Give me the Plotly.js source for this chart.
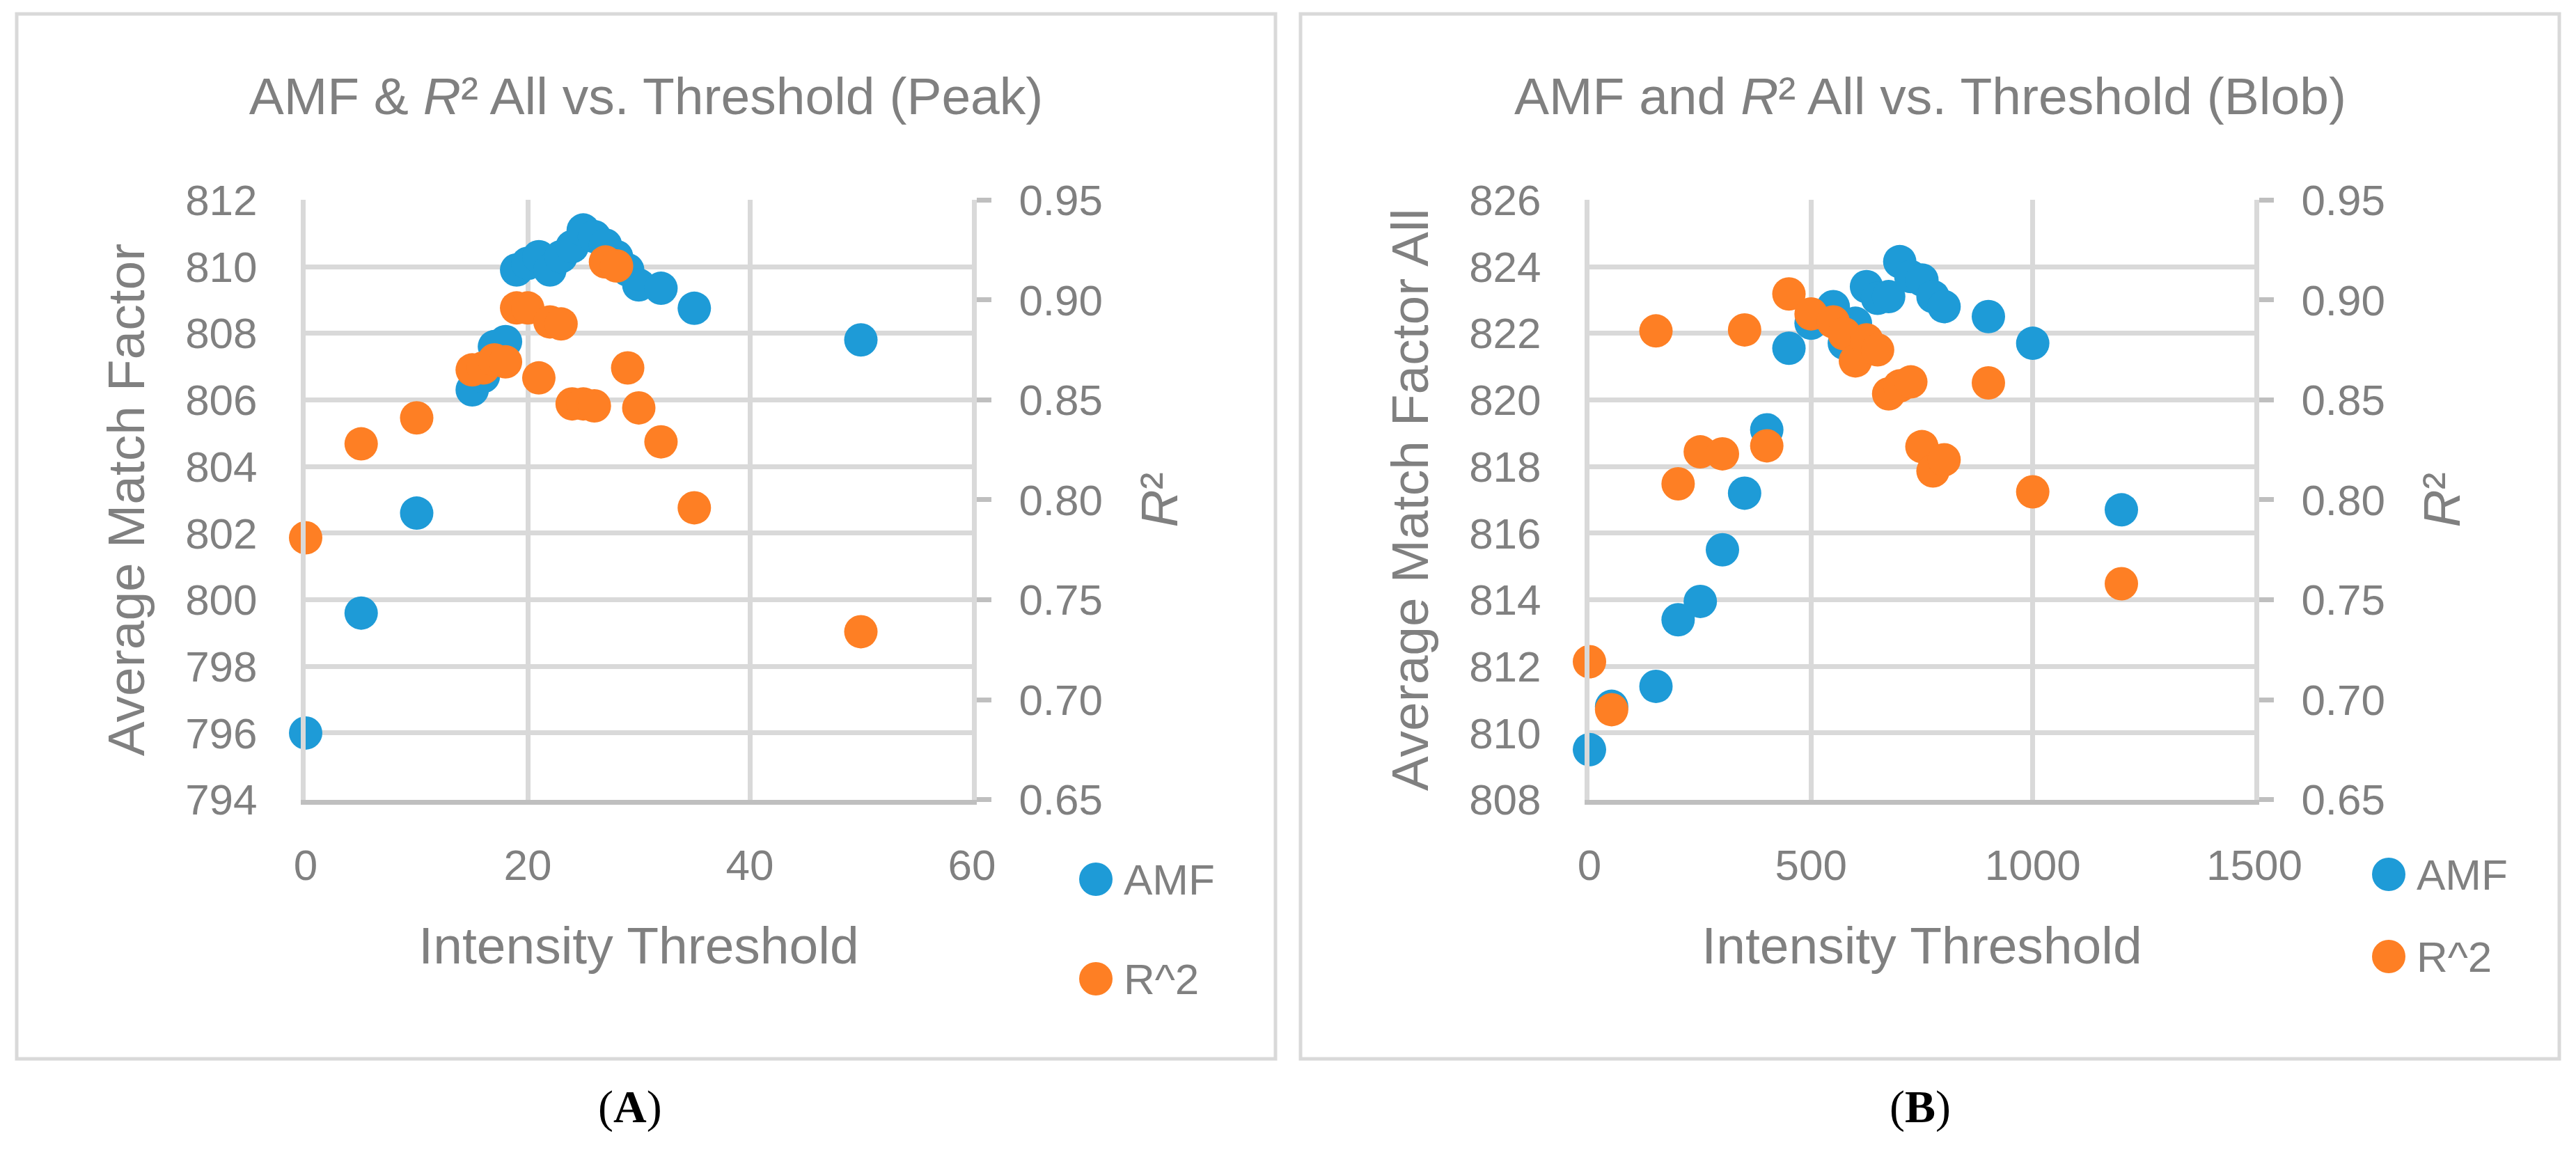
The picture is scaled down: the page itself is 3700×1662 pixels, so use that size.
<!DOCTYPE html>
<html>
<head>
<meta charset="utf-8">
<script src="https://cdn.plot.ly/plotly-3.0.1.min.js"></script>
<style>html,body{margin:0;padding:0;background:#fff;}#chart{width:3700px;height:1662px;}</style>
</head>
<body>
<div id="chart"></div>
<script>
// ---- Data ----
var thresholdPeak = [0, 5, 10, 15, 16, 17, 18, 19, 20, 21, 22, 23, 24, 25, 26, 27, 28, 29, 30, 32, 35, 50];
var amfPeak = [796.0, 799.6, 802.6, 806.3, 806.7, 807.6, 807.75, 809.9, 810.1, 810.3, 809.9, 810.3, 810.6, 811.1, 810.9, 810.65, 810.3, 809.9, 809.45, 809.35, 808.75, 807.8];
var r2Peak = [0.781, 0.828, 0.841, 0.865, 0.866, 0.870, 0.869, 0.896, 0.896, 0.861, 0.889, 0.888, 0.848, 0.848, 0.847, 0.919, 0.917, 0.866, 0.846, 0.829, 0.796, 0.734];

var thresholdBlob = [0, 50, 150, 200, 250, 300, 350, 400, 450, 500, 550, 575, 600, 625, 650, 675, 700, 725, 750, 775, 800, 900, 1000, 1200];
var amfBlob = [809.5, 810.8, 811.4, 813.4, 813.95, 815.5, 817.2, 819.1, 821.55, 822.3, 822.8, 821.7, 822.3, 823.4, 823.05, 823.1, 824.15, 823.7, 823.6, 823.1, 822.8, 822.5, 821.7, 816.7];
var r2Blob = [0.719, 0.695, 0.8845, 0.808, 0.824, 0.823, 0.885, 0.827, 0.903, 0.893, 0.889, 0.883, 0.8695, 0.880, 0.875, 0.853, 0.857, 0.859, 0.8266, 0.8144, 0.820, 0.8585, 0.804, 0.758];

var seriesNames = ["AMF", "R^2"];
var panelTitles = ["AMF &amp; <i>R</i>\u00b2 All vs. Threshold (Peak)", "AMF and <i>R</i>\u00b2 All vs. Threshold (Blob)"];
var leftAxisTitles = ["Average Match Factor", "Average Match Factor All"];
var xAxisTitle = "Intensity Threshold";
var rightAxisTitle = "<i>R</i>\u00b2";
var panelLabels = ["(<b>A</b>)", "(<b>B</b>)"];

// ---- Styling ----
var W = 3700, H = 1662;
var BLUE = "#1e9bd7", ORANGE = "#fe7f24";
var GRAY = "#808080", GRID = "#d9d9d9", AXIS = "#bfbfbf";
var FONT = "Liberation Sans, Arial, sans-serif";
var TICK = 62, TTL = 75;
function px(x) { return x / W; }
function py(y) { return 1 - y / H; }
var titleFont = {family: FONT, size: TTL, color: GRAY};

var yDom = [py(1148.6), py(287.3)];
var xDomA = [px(439), px(1396)];
var xDomB = [px(2283), px(3238)];

function mk(x, y, name, color, xa, ya) {
  return {type: "scatter", mode: "markers", x: x, y: y, name: name, xaxis: xa, yaxis: ya,
          cliponaxis: false, showlegend: false, hoverinfo: "x+y",
          marker: {size: 48, color: color, line: {width: 0}}};
}
var traces = [
  mk(thresholdPeak, amfPeak, seriesNames[0], BLUE, "x", "y"),
  mk(thresholdPeak, r2Peak, seriesNames[1], ORANGE, "x", "y2"),
  mk(thresholdBlob, amfBlob, seriesNames[0], BLUE, "x2", "y3"),
  mk(thresholdBlob, r2Blob, seriesNames[1], ORANGE, "x2", "y4")
];

function xAxis(dom, range, dtick, anchor) {
  return {domain: dom, range: range, dtick: dtick, tick0: 0, anchor: anchor,
          showgrid: true, gridcolor: GRID, gridwidth: 7, zeroline: false,
          showline: true, linecolor: AXIS, linewidth: 7, ticks: "",
          ticklabelstandoff: 34, tickfont: {family: FONT, size: TICK, color: GRAY}, fixedrange: true,
          automargin: true, title: {text: xAxisTitle, font: titleFont, standoff: 58}};
}
function yLeft(range, anchor, title) {
  return {domain: yDom, range: range, dtick: 2, tick0: 0, anchor: anchor,
          showgrid: true, gridcolor: GRID, gridwidth: 7, zeroline: false,
          showline: true, linecolor: GRID, linewidth: 7, ticks: "",
          ticklabelstandoff: 50, tickfont: {family: FONT, size: TICK, color: GRAY}, fixedrange: true,
          automargin: true, title: {text: title, font: titleFont, standoff: 36}};
}
function yRight(overlay, anchor) {
  return {domain: yDom, range: [0.65, 0.95], dtick: 0.05, tick0: 0, tickformat: ".2f",
          overlaying: overlay, side: "right", anchor: anchor,
          showgrid: false, zeroline: false, showline: true, linecolor: GRID, linewidth: 7,
          ticks: "outside", ticklen: 21, tickwidth: 7, tickcolor: AXIS,
          ticklabelstandoff: 27, tickfont: {family: FONT, size: TICK, color: GRAY}, fixedrange: true,
          automargin: true, title: {text: rightAxisTitle, font: titleFont, standoff: 58}};
}

var ann = [];
function txt(x, y, text, size, opts) {
  var a = {xref: "paper", yref: "paper", x: px(x), y: py(y), text: text, showarrow: false,
           xanchor: "center", yanchor: "middle", font: {family: FONT, size: size, color: GRAY}};
  for (var k in (opts || {})) a[k] = opts[k];
  ann.push(a);
}
var shapes = [];
function legendDot(x, y, color) {
  shapes.push({type: "circle", xref: "paper", yref: "paper", xsizemode: "pixel", ysizemode: "pixel",
               xanchor: px(x), yanchor: py(y), x0: -24, x1: 24, y0: -24, y1: 24,
               fillcolor: color, line: {width: 0}});
}
function frame(x0, x1) {
  shapes.push({type: "rect", xref: "paper", yref: "paper", x0: px(x0), x1: px(x1), y0: py(1521), y1: py(20),
               line: {color: GRID, width: 5}, fillcolor: "rgba(0,0,0,0)", layer: "below"});
}
var serif = {family: "Liberation Serif, Times New Roman, serif", size: 66, color: "#000"};

// Panel A
frame(24, 1832);
legendDot(1574, 1263, BLUE); legendDot(1574, 1406, ORANGE);
txt(1612, 1263, seriesNames[0], TICK, {xanchor: "left"});
txt(1612, 1406, seriesNames[1], TICK, {xanchor: "left"});
txt(905, 1590, panelLabels[0], 66, {font: serif});

// Panel B
frame(1868, 3676);
txt(2772, 138, panelTitles[1], TTL);
legendDot(3431, 1256, BLUE); legendDot(3431, 1374, ORANGE);
txt(3469, 1256, seriesNames[0], TICK, {xanchor: "left"});
txt(3469, 1374, seriesNames[1], TICK, {xanchor: "left"});
txt(2758, 1590, panelLabels[1], 66, {font: serif});

var layout = {
  width: W, height: H, margin: {l: 0, r: 0, t: 0, b: 0, autoexpand: false},
  paper_bgcolor: "#fff", plot_bgcolor: "rgba(0,0,0,0)", showlegend: false,
  font: {family: FONT, color: GRAY},
  title: {text: panelTitles[0], font: titleFont, xref: "paper", yref: "paper",
          x: px(928), y: py(138), xanchor: "center", yanchor: "middle"},
  xaxis: xAxis(xDomA, [0, 60], 20, "y"),
  yaxis: yLeft([794, 812], "x", leftAxisTitles[0]),
  yaxis2: yRight("y", "x"),
  xaxis2: xAxis(xDomB, [0, 1500], 500, "y3"),
  yaxis3: yLeft([808, 826], "x2", leftAxisTitles[1]),
  yaxis4: yRight("y3", "x2"),
  annotations: ann, shapes: shapes
};

Plotly.newPlot("chart", traces, layout, {displayModeBar: false, staticPlot: true});
</script>
</body>
</html>
